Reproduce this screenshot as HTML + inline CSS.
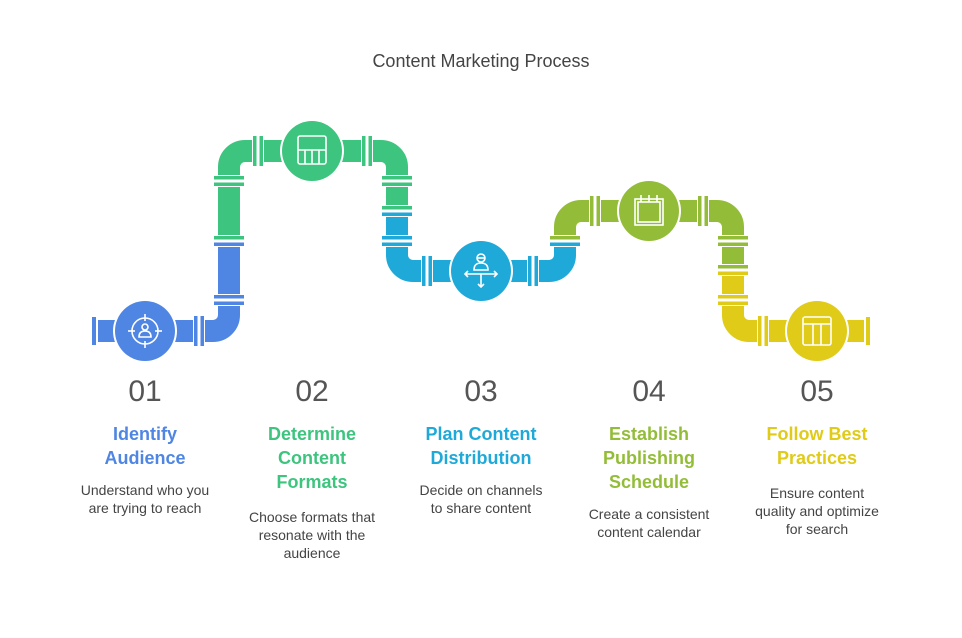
<!DOCTYPE html>
<html><head><meta charset="utf-8"><style>
html,body{margin:0;padding:0;background:#fff;}
svg{display:block;font-family:"Liberation Sans",sans-serif;}
</style></head><body>
<svg width="962" height="638" viewBox="0 0 962 638" xmlns="http://www.w3.org/2000/svg">
<rect width="962" height="638" fill="#fff"/>
<text x="481" y="67" text-anchor="middle" font-size="18" fill="#444">Content Marketing Process</text>
<g fill="none" stroke-width="22">
<path d="M98 331 H213 A16 16 0 0 0 229 315 V241" stroke="#4F86E3"/>
<path d="M229 241 V167 A16 16 0 0 1 245 151 H381 A16 16 0 0 1 397 167 V211" stroke="#3DC47E"/>
<path d="M397 211 V255 A16 16 0 0 0 413 271 H549 A16 16 0 0 0 565 255 V241" stroke="#1FA9D8"/>
<path d="M565 241 V227 A16 16 0 0 1 581 211 H717 A16 16 0 0 1 733 227 V270" stroke="#93BD38"/>
<path d="M733 270 V315 A16 16 0 0 0 749 331 H864" stroke="#DFCB18"/>
</g>
<!-- end caps -->
<rect x="92" y="317" width="4" height="28" fill="#4F86E3"/>
<rect x="866" y="317" width="4" height="28" fill="#DFCB18"/>
<!-- vertical pipe flanges -->
<g>
<rect x="213" y="175" width="32" height="12" fill="#fff"/><rect x="214" y="176" width="30" height="3.5" fill="#3DC47E"/><rect x="214" y="182.5" width="30" height="3.5" fill="#3DC47E"/>
<rect x="213" y="235" width="32" height="12" fill="#fff"/><rect x="214" y="236" width="30" height="3.5" fill="#3DC47E"/><rect x="214" y="242.5" width="30" height="3.5" fill="#4F86E3"/>
<rect x="213" y="294" width="32" height="12" fill="#fff"/><rect x="214" y="295" width="30" height="3.5" fill="#4F86E3"/><rect x="214" y="301.5" width="30" height="3.5" fill="#4F86E3"/>
<rect x="381" y="175" width="32" height="12" fill="#fff"/><rect x="382" y="176" width="30" height="3.5" fill="#3DC47E"/><rect x="382" y="182.5" width="30" height="3.5" fill="#3DC47E"/>
<rect x="381" y="205" width="32" height="12" fill="#fff"/><rect x="382" y="206" width="30" height="3.5" fill="#3DC47E"/><rect x="382" y="212.5" width="30" height="3.5" fill="#1FA9D8"/>
<rect x="381" y="235" width="32" height="12" fill="#fff"/><rect x="382" y="236" width="30" height="3.5" fill="#1FA9D8"/><rect x="382" y="242.5" width="30" height="3.5" fill="#1FA9D8"/>
<rect x="549" y="235" width="32" height="12" fill="#fff"/><rect x="550" y="236" width="30" height="3.5" fill="#93BD38"/><rect x="550" y="242.5" width="30" height="3.5" fill="#1FA9D8"/>
<rect x="717" y="235" width="32" height="12" fill="#fff"/><rect x="718" y="236" width="30" height="3.5" fill="#93BD38"/><rect x="718" y="242.5" width="30" height="3.5" fill="#93BD38"/>
<rect x="717" y="264" width="32" height="12" fill="#fff"/><rect x="718" y="265" width="30" height="3.5" fill="#93BD38"/><rect x="718" y="271.5" width="30" height="3.5" fill="#DFCB18"/>
<rect x="717" y="294" width="32" height="12" fill="#fff"/><rect x="718" y="295" width="30" height="3.5" fill="#DFCB18"/><rect x="718" y="301.5" width="30" height="3.5" fill="#DFCB18"/>
</g>
<!-- horizontal pipe flanges -->
<g>
<rect x="193" y="315" width="12" height="32" fill="#fff"/><rect x="194" y="316" width="3.5" height="30" fill="#4F86E3"/><rect x="200.5" y="316" width="3.5" height="30" fill="#4F86E3"/>
<rect x="252" y="135" width="12" height="32" fill="#fff"/><rect x="253" y="136" width="3.5" height="30" fill="#3DC47E"/><rect x="259.5" y="136" width="3.5" height="30" fill="#3DC47E"/>
<rect x="361" y="135" width="12" height="32" fill="#fff"/><rect x="362" y="136" width="3.5" height="30" fill="#3DC47E"/><rect x="368.5" y="136" width="3.5" height="30" fill="#3DC47E"/>
<rect x="421" y="255" width="12" height="32" fill="#fff"/><rect x="422" y="256" width="3.5" height="30" fill="#1FA9D8"/><rect x="428.5" y="256" width="3.5" height="30" fill="#1FA9D8"/>
<rect x="527" y="255" width="12" height="32" fill="#fff"/><rect x="528" y="256" width="3.5" height="30" fill="#1FA9D8"/><rect x="534.5" y="256" width="3.5" height="30" fill="#1FA9D8"/>
<rect x="589" y="195" width="12" height="32" fill="#fff"/><rect x="590" y="196" width="3.5" height="30" fill="#93BD38"/><rect x="596.5" y="196" width="3.5" height="30" fill="#93BD38"/>
<rect x="697" y="195" width="12" height="32" fill="#fff"/><rect x="698" y="196" width="3.5" height="30" fill="#93BD38"/><rect x="704.5" y="196" width="3.5" height="30" fill="#93BD38"/>
<rect x="757" y="315" width="12" height="32" fill="#fff"/><rect x="758" y="316" width="3.5" height="30" fill="#DFCB18"/><rect x="764.5" y="316" width="3.5" height="30" fill="#DFCB18"/>
</g>
<!-- circles -->
<circle cx="145" cy="331" r="32" fill="#fff"/><circle cx="145" cy="331" r="30" fill="#4F86E3"/>
<circle cx="312" cy="151" r="32" fill="#fff"/><circle cx="312" cy="151" r="30" fill="#3DC47E"/>
<circle cx="481" cy="271" r="32" fill="#fff"/><circle cx="481" cy="271" r="30" fill="#1FA9D8"/>
<circle cx="649" cy="211" r="32" fill="#fff"/><circle cx="649" cy="211" r="30" fill="#93BD38"/>
<circle cx="817" cy="331" r="32" fill="#fff"/><circle cx="817" cy="331" r="30" fill="#DFCB18"/>
<!-- icons -->
<g fill="none" stroke="#fff" stroke-width="1.6">
<circle cx="145" cy="331" r="13"/>
<line x1="145" y1="314" x2="145" y2="321"/><line x1="145" y1="341" x2="145" y2="348"/><line x1="128" y1="331" x2="135" y2="331"/><line x1="155" y1="331" x2="162" y2="331"/>
<circle cx="145" cy="327" r="3"/><path d="M139 337 Q139 331 145 331 Q151 331 151 337 Z"/>
<rect x="298" y="136" width="28" height="28" rx="2"/><line x1="298" y1="150" x2="326" y2="150"/><line x1="305" y1="150" x2="305" y2="164"/><line x1="312" y1="150" x2="312" y2="164"/><line x1="319" y1="150" x2="319" y2="164"/>
<circle cx="481" cy="258" r="4"/><line x1="477" y1="258" x2="485" y2="258"/><path d="M474 270 Q474 263 481 263 Q488 263 488 270 Z"/>
<line x1="465" y1="274" x2="497" y2="274"/><path d="M468 271 L465 274 L468 277 M494 271 L497 274 L494 277"/><line x1="481" y1="274" x2="481" y2="287"/><path d="M478 284 L481 287 L484 284"/>
<rect x="635" y="199" width="28" height="26"/><rect x="638" y="202" width="22" height="20"/><line x1="641" y1="195" x2="641" y2="202"/><line x1="649" y1="195" x2="649" y2="202"/><line x1="657" y1="195" x2="657" y2="202"/>
<rect x="803" y="317" width="28" height="28" rx="2"/><line x1="803" y1="324" x2="831" y2="324"/><line x1="813" y1="324" x2="813" y2="345"/><line x1="821" y1="324" x2="821" y2="345"/>
</g>
<!-- numbers -->
<g font-size="30" fill="#555" text-anchor="middle">
<text x="145" y="401">01</text><text x="312" y="401">02</text><text x="481" y="401">03</text><text x="649" y="401">04</text><text x="817" y="401">05</text>
</g>
<g font-size="18" font-weight="bold" text-anchor="middle">
<text x="145" y="440" fill="#4F86E3">Identify</text><text x="145" y="464" fill="#4F86E3">Audience</text>
<text x="312" y="440" fill="#3DC47E">Determine</text><text x="312" y="464" fill="#3DC47E">Content</text><text x="312" y="488" fill="#3DC47E">Formats</text>
<text x="481" y="440" fill="#1FA9D8">Plan Content</text><text x="481" y="464" fill="#1FA9D8">Distribution</text>
<text x="649" y="440" fill="#93BD38">Establish</text><text x="649" y="464" fill="#93BD38">Publishing</text><text x="649" y="488" fill="#93BD38">Schedule</text>
<text x="817" y="440" fill="#DFCB18">Follow Best</text><text x="817" y="464" fill="#DFCB18">Practices</text>
</g>
<g font-size="14" fill="#444" text-anchor="middle">
<text x="145" y="495">Understand who you</text><text x="145" y="513">are trying to reach</text>
<text x="312" y="522">Choose formats that</text><text x="312" y="540">resonate with the</text><text x="312" y="558">audience</text>
<text x="481" y="495">Decide on channels</text><text x="481" y="513">to share content</text>
<text x="649" y="519">Create a consistent</text><text x="649" y="537">content calendar</text>
<text x="817" y="498">Ensure content</text><text x="817" y="516">quality and optimize</text><text x="817" y="534">for search</text>
</g>
</svg>
</body></html>
